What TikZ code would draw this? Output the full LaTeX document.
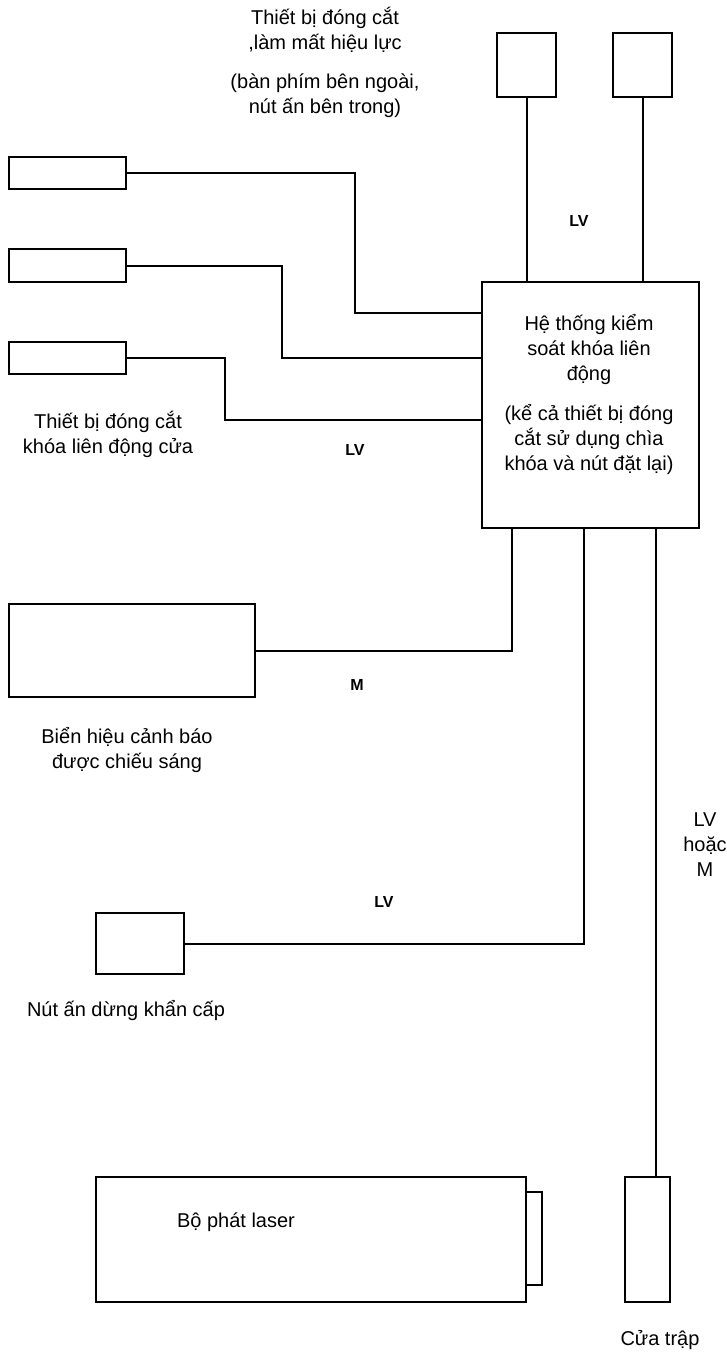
\documentclass[tikz,border=0pt]{standalone}
\usepackage{fontspec}
\setmainfont{Liberation Sans}
\usetikzlibrary{positioning}

\tikzset{
  box/.style={draw, line width=2.4pt, inner sep=0pt, fill=white},
  wire/.style={line width=2pt},
  caption/.style={font=\fontsize{20}{25}\selectfont, align=center, inner sep=0pt},
  tag/.style={font=\fontsize{16}{18}\selectfont\bfseries, inner sep=0pt}
}

\begin{document}
\begin{tikzpicture}[x=1pt, y=-1pt]
        \useasboundingbox (0,0) rectangle (727,1352);
        % boxes
        \node[box, minimum width=59pt, minimum height=64pt] (key1) at (526.5,65) {};
        \node[box, minimum width=59pt, minimum height=64pt] (key2) at (642.5,65) {};
        \node[box, minimum width=117pt, minimum height=32pt] (lockA) at (67.5,173) {};
        \node[box, minimum width=117pt, minimum height=33pt] (lockB) at (67.5,265.5) {};
        \node[box, minimum width=117pt, minimum height=32pt] (lockC) at (67.5,358) {};
        \node[box, minimum width=217pt, minimum height=246pt] (ctrl) at (590.5,405) {};
        \node[box, minimum width=246pt, minimum height=93pt] (sign) at (132,650.5) {};
        \node[box, minimum width=88pt, minimum height=61pt] (stop) at (140,943.5) {};
        \node[box, minimum width=16pt, minimum height=93pt] (tab) at (534,1238.5) {};
        \node[box, minimum width=430pt, minimum height=125pt] (laser) at (311,1239.5) {};
        \node[box, minimum width=45pt, minimum height=125pt] (door) at (647.5,1239.5) {};

        % wires
        \draw[wire] (key1.south) -- (key1.south |- ctrl.north);
        \draw[wire] (key2.south) -- (key2.south |- ctrl.north);
        \draw[wire] (lockA.east) -| (355,313) -- (ctrl.west |- 0,313);
        \draw[wire] (lockB.east) -| (282,358) -- (ctrl.west |- 0,358);
        \draw[wire] (lockC.east) -| (225,420) -- (ctrl.west |- 0,420);
        \draw[wire] (ctrl.south -| 512,0) |- (sign.east);
        \draw[wire] (ctrl.south -| 584,0) |- (stop.east);
        \draw[wire] (ctrl.south -| 656,0) -- (door.north -| 656,0);

        % texts
        \node[caption] (keytext) at (325,62) {Thiết bị đóng cắt\\,làm mất hiệu lực\\[14pt](bàn phím bên ngoài,\\nút ấn bên trong)};
        \node[caption] (ctrltext) at (589,394) {Hệ thống kiểm\\soát khóa liên\\động\\[15pt](kể cả thiết bị đóng\\cắt sử dụng chìa\\khóa và nút đặt lại)};
        \node[caption] (locktext) at (108,434.5) {Thiết bị đóng cắt\\khóa liên động cửa};
        \node[caption] (signtext) at (127,749.5) {Biển hiệu cảnh báo\\được chiếu sáng};
        \node[caption] (stoptext) at (126,1010) {Nút ấn dừng khẩn cấp};
        \node[caption] (lasertext) at (236,1222) {Bộ phát laser};
        \node[caption] (doortext) at (660,1340) {Cửa trập};
        \node[caption] (doorwire) at (705,845) {LV\\hoặc\\M};
        \node[tag] (lvtop) at (579,221) {LV};
        \node[tag] (lvleft) at (355,450) {LV};
        \node[tag] (msign) at (357,685) {M};
        \node[tag] (lvstop) at (384,902) {LV};
      \end{tikzpicture}
\end{document}
